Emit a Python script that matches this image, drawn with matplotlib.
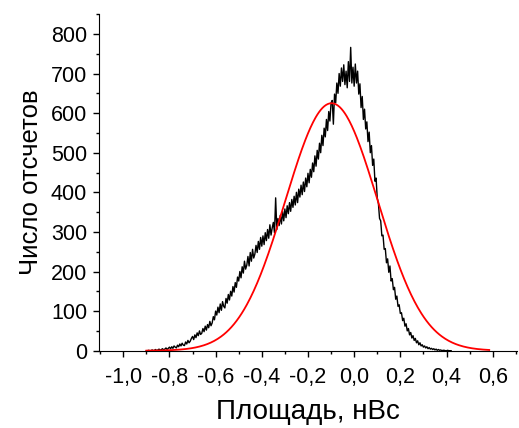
import numpy as np
import matplotlib.pyplot as plt
from matplotlib.ticker import MultipleLocator, FuncFormatter

plt.rcParams['font.family'] = ['Liberation Sans', 'DejaVu Sans']

# гистограмма площадей импульсов: начало, шаг бина и отсчеты
area_start = -0.9
bin_width = 0.005
counts = [
    0, 0, 1, 0, 0, 2, 0, 1, 3, 0, 2, 4, 1, 3, 5, 2, 4, 7, 3, 6, 9,
    5, 10, 6, 12, 9, 7, 14, 10, 17, 12, 19, 14, 13, 22, 17, 26, 20, 24, 31, 36,
    28, 40, 33, 45, 38, 50, 41, 44, 56, 48, 62, 52, 66, 58, 74, 63, 70, 86, 78, 100,
    90, 110, 96, 118, 102, 124, 112, 108, 132, 120, 142, 128, 150, 138, 162, 148, 172, 160, 186, 176,
    200, 184, 212, 196, 226, 206, 216, 238, 214, 248, 226, 256, 234, 244, 266, 248, 276, 256, 286, 264,
    290, 268, 298, 278, 306, 284, 318, 292, 310, 324, 298, 386, 306, 334, 316, 342, 320, 352, 328, 358,
    336, 366, 346, 374, 352, 382, 362, 390, 368, 400, 374, 408, 388, 418, 394, 426, 402, 436, 414, 448,
    424, 458, 438, 474, 452, 492, 466, 506, 484, 524, 500, 544, 518, 562, 540, 584, 556, 604, 580, 626,
    632, 572, 648, 626, 676, 650, 700, 668, 714, 680, 722, 672, 706, 664, 730, 680, 766, 676, 716, 668,
    724, 676, 706, 648, 674, 614, 642, 584, 610, 560, 578, 528, 552, 500, 518, 468, 484, 428, 436, 386,
    372, 334, 328, 290, 292, 256, 258, 222, 232, 198, 214, 176, 182, 154, 160, 130, 138, 112, 116, 94,
    96, 76, 82, 62, 68, 50, 56, 40, 46, 32, 38, 26, 31, 20, 25, 15, 20, 12, 15, 9,
    12, 7, 10, 5, 8, 4, 6, 3, 5, 2, 4, 1, 3, 1, 2, 0, 1, 1, 0, 0, 1, 0, 0, 0,
]

# параметры гауссовой аппроксимации
fit_amp = 625
fit_center = -0.098
fit_sigma = 0.2
fit_range = (-0.9, 0.585)

area = area_start + bin_width * np.arange(len(counts))
xf = np.linspace(fit_range[0], fit_range[1], 400)
yf = fit_amp * np.exp(-(xf - fit_center) ** 2 / (2 * fit_sigma ** 2))

fig = plt.figure(figsize=(5.19, 4.28), dpi=100)
ax = fig.add_axes([0.1908, 0.1806, 0.8052, 0.7864])

ax.plot(area, counts, color='black', linewidth=1.0)
ax.plot(xf, yf, color='red', linewidth=1.3)

ax.set_xlim(-1.105, 0.705)
ax.set_ylim(0, 850)

ax.spines['top'].set_visible(False)
ax.spines['right'].set_visible(False)

ax.xaxis.set_major_locator(MultipleLocator(0.2))
ax.xaxis.set_minor_locator(MultipleLocator(0.1))
ax.yaxis.set_major_locator(MultipleLocator(100))
ax.yaxis.set_minor_locator(MultipleLocator(50))
ax.xaxis.set_major_formatter(FuncFormatter(lambda v, p: f"{v:.1f}".replace('.', ',').replace('-0,0', '0,0')))

ax.tick_params(which='major', direction='out', length=4.5, width=1, labelsize=15.5)
ax.tick_params(which='minor', direction='out', length=2.5, width=1)
ax.tick_params(axis='x', which='major', pad=7)
ax.tick_params(axis='y', which='major', pad=4)

ax.set_xlabel("Площадь, нВс", fontsize=20, labelpad=8)
ax.set_ylabel("Число отсчетов", fontsize=18.5, labelpad=6)

fig.savefig('out.png', dpi=100)
